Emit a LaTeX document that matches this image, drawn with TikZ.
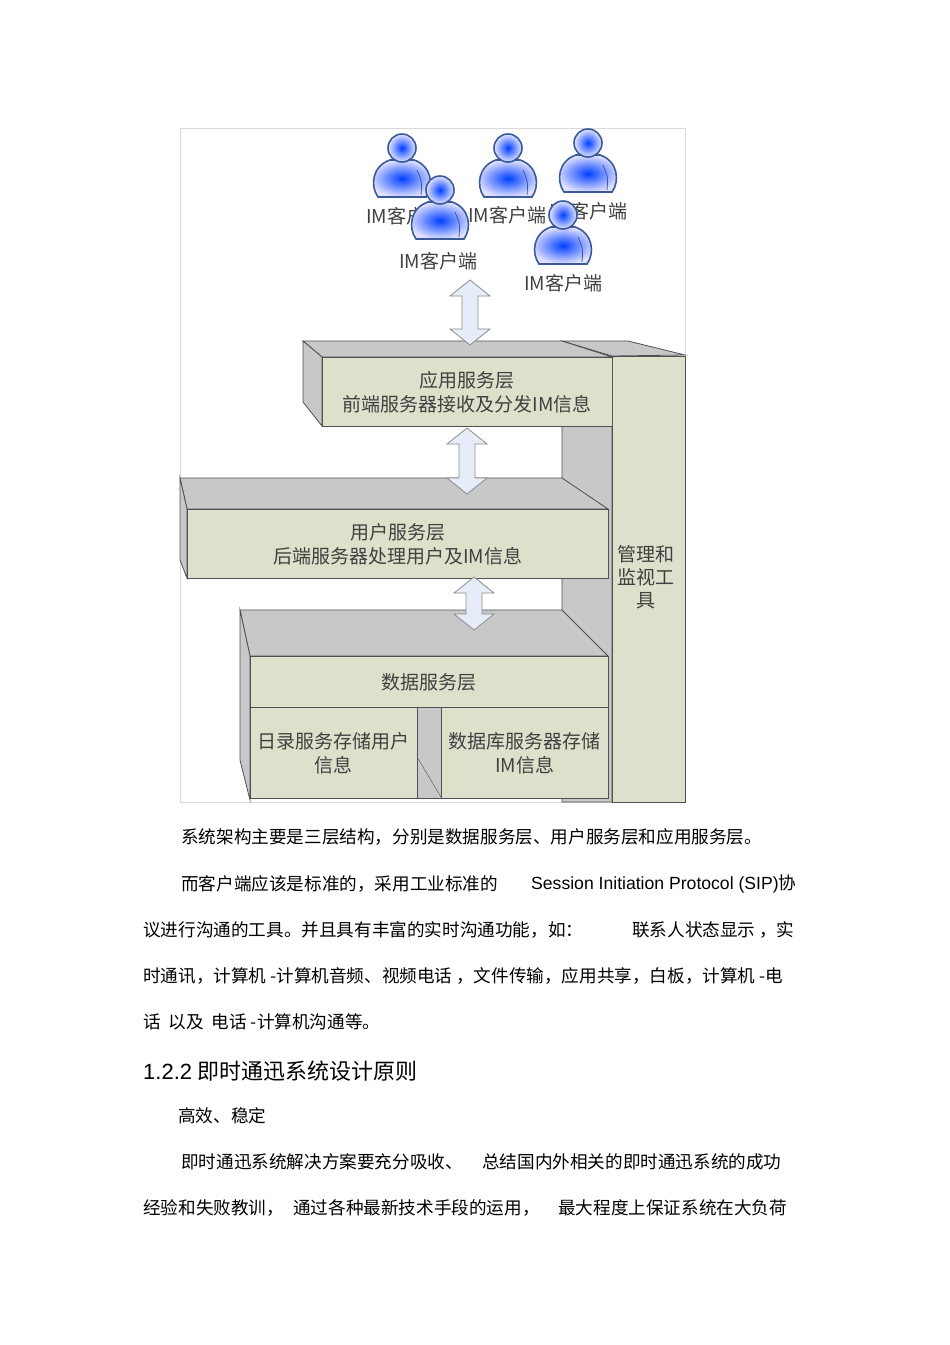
\documentclass[tikz,border=0pt]{standalone}
\usepackage{fontspec}
\setmainfont{Noto Sans CJK SC}
\newfontfamily\latinf{Liberation Sans}
\definecolor{sidegray}{HTML}{C8C8C8}
\definecolor{facegreen}{HTML}{DDE0CB}
\definecolor{edgec}{HTML}{505050}
\definecolor{arrfill}{HTML}{E6ECF8}
\definecolor{pout}{HTML}{3A5A9A}
\tikzset{
  side/.style={fill=sidegray,draw=edgec,line width=0.8pt},
  face/.style={fill=facegreen,draw=edgec,line width=0.8pt},
  dtext/.style={text=black!75,font=\fontsize{19}{22}\selectfont,inner sep=0pt},
  btext/.style={text=black,font=\fontsize{17.6}{20}\selectfont,inner sep=0pt,anchor=west},
}
\newcommand\personicon[3]{% name, x, y (head centre)
  \begin{scope}[shift={(#2,#3)}]
  \path[draw=pout,line width=1.6pt,inner color=blue!75!cyan,outer color=blue!12,shading=radial]
    (-24,49) .. controls (-32,38) and (-30,18) .. (-12,12) -- (12,12) .. controls (30,18) and (32,38) .. (24,49) -- cycle;
  \draw[pout,line width=0.8pt] (15,22) .. controls (20,34) .. (19,47);
  \shade[inner color=blue!75!cyan,outer color=blue!10] (0,0) circle (14);
  \draw[pout,line width=1.6pt] (0,0) circle (14);
  \coordinate (#1) at (0,0);
  \end{scope}}
\newcommand\dblarrow[4]{% name, x, ytop, ybottom
  \draw[fill=arrfill,draw=black!45,line width=0.8pt]
   (#2,#3) -- (#2+20,#3+16) -- (#2+8,#3+16) -- (#2+8,#4-16) -- (#2+20,#4-16) -- (#2,#4)
   -- (#2-20,#4-16) -- (#2-8,#4-16) -- (#2-8,#3+16) -- (#2-20,#3+16) -- cycle;
  \coordinate (#1) at (#2,#3);}
\begin{document}
\begin{tikzpicture}[x=1pt,y=-1pt]
\useasboundingbox (0,0) rectangle (950,1345);
\fill[white] (0,0) rectangle (950,1345);
\draw[black!15] (180,128) rectangle (685,802);
% management tool box
\draw[side] (562,341) -- (612,356) -- (612,802) -- (562,802) -- cycle;
\draw[side] (562,341) -- (628,341) -- (685,355) -- (612,356) -- cycle;
\node[face,minimum width=73pt,minimum height=446pt,anchor=north west,inner sep=0pt] (mgmt) at (612,356) {};
\node[dtext,align=center] (mgmtt) at (646,577) {管理和\\[1pt]监视工\\[1pt]具};
% data layer
\draw[side] (240,610) -- (562,610) -- (608,656) -- (250,656) -- cycle;
\draw[side] (240,610) -- (250,656) -- (250,800) -- (240,760) -- cycle;
\node[face,minimum width=358pt,minimum height=51pt,anchor=north west,inner sep=0pt] (data) at (250,656) {};
\node[dtext] at (data.center) {数据服务层};
\draw[side] (417,707) -- (441,707) -- (441,798) -- (417,798) -- cycle;
\draw[edgec] (417,757) -- (441,797);
\node[face,minimum width=167pt,minimum height=91pt,anchor=north west,inner sep=0pt] (dir) at (250,707) {};
\node[dtext,align=center] at (dir.center) {日录服务存储用户\\[2pt]信息};
\node[face,minimum width=167pt,minimum height=91pt,anchor=north west,inner sep=0pt] (db) at (441,707) {};
\node[dtext,align=center] at (db.center) {数据库服务器存储\\[2pt]IM信息};
% user layer
\draw[side] (180,478) -- (562,478) -- (608,509) -- (187,509) -- cycle;
\draw[side] (180,478) -- (187,509) -- (187,578) -- (180,560) -- cycle;
\node[face,minimum width=421pt,minimum height=69pt,anchor=north west,inner sep=0pt] (user) at (187,509) {};
\node[dtext,align=center] at (user.center) {用户服务层\\[2pt]后端服务器处理用户及IM信息};
% app layer
\draw[side] (303,341) -- (562,341) -- (612,357) -- (322,357) -- cycle;
\draw[side] (303,341) -- (322,357) -- (322,426) -- (303,402) -- cycle;
\node[face,minimum width=290pt,minimum height=69pt,anchor=north west,inner sep=0pt] (app) at (322,357) {};
\node[dtext,align=center] at (app.center) {应用服务层\\[2pt]前端服务器接收及分发IM信息};
% arrows
\dblarrow{a1}{470}{280}{345}
\dblarrow{a2}{467}{428}{494}
\dblarrow{a3}{474}{577}{630}
% people
\personicon{p1}{402}{148}
\personicon{p3}{508}{148}
\personicon{p4}{588}{143}
\node[dtext] (l1) at (405,216) {IM客户端};
\node[dtext] (l3) at (588,211) {IM客户端};
\personicon{p2}{440}{190}
\node[dtext] (l2) at (507,215) {IM客户端};
\personicon{p5}{563}{215}
\node[dtext] (l4) at (438,261) {IM客户端};
\node[dtext] (l5) at (563,283) {IM客户端};
% body text
\node[btext] (t1) at (181,837) {系统架构主要是三层结构，分别是数据服务层、用户服务层和应用服务层。};
\node[btext] (t2) at (181,884) {而客户端应该是标准的，采用工业标准的};
\node[btext] (t2b) at (531,884) {{\latinf Session Initiation Protocol (SIP)}协};
\node[btext] (t3) at (143,930) {议进行沟通的工具。并且具有丰富的实时沟通功能，如：};
\node[btext] (t3b) at (632,930) {联系人状态显示 ，实};
\node[btext] (t4) at (143,976) {时通讯，计算机 -计算机音频、视频电话 ，文件传输，应用共享，白板，计算机 -电};
\node[btext] (t5) at (143,1022) {话\ \ 以及\ \ 电话 -计算机沟通等。};
\node[btext,font=\fontsize{22}{24}\selectfont] (h) at (143,1071) {{\latinf 1.2.2} 即时通迅系统设计原则};
\node[btext] (t6) at (178,1116) {高效、稳定};
\node[btext] (t7) at (181,1162) {即时通迅系统解决方案要充分吸收、};
\node[btext] (t7b) at (482,1162) {总结国内外相关的即时通迅系统的成功};
\node[btext] (t8) at (143,1208) {经验和失败教训，};
\node[btext] (t8b) at (293,1208) {通过各种最新技术手段的运用，};
\node[btext] (t8c) at (558,1208) {最大程度上保证系统在大负荷};
\end{tikzpicture}
\end{document}
